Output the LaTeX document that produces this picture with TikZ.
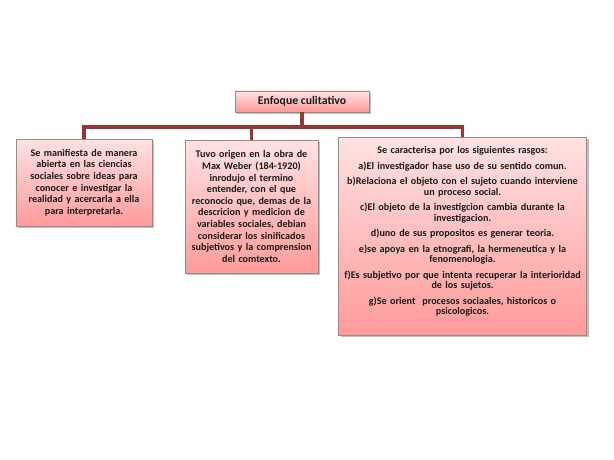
\documentclass[tikz,border=0pt]{standalone}
\usepackage{fontspec}
\setmainfont{Carlito}
\usepackage{xcolor}
\usepackage{tikz}
\usetikzlibrary{shadows}
\definecolor{cRosaTop}{HTML}{FFE2E2}
\definecolor{cRosaBot}{HTML}{FF9A9A}
\definecolor{cBorde}{HTML}{8E8E8E}
\definecolor{cVino}{HTML}{953735}
\definecolor{cTexto}{HTML}{1A1A1A}
\tikzset{
  caja/.style={draw=cBorde,line width=0.6pt,top color=cRosaTop,bottom color=cRosaBot,
    drop shadow={shadow xshift=1.6pt,shadow yshift=-1.6pt,fill=black,opacity=0.25},
    align=center,inner sep=0pt,text=cTexto,
    font=\bfseries\fontsize{7.6}{8.7}\selectfont},
  raiz/.style={caja,font=\bfseries\fontsize{8.8}{9}\selectfont},
  conn/.style={draw=cVino,line width=2.3pt},
}

\begin{document}
\begin{tikzpicture}[x=0.75pt,y=-0.75pt]
    \useasboundingbox[fill=white] (0,0) rectangle (614,460);
    % root
    \node[raiz,minimum width=100.5pt,minimum height=15.75pt] (root) at (302,101.5) {Enfoque culitativo};
    \coordinate (bus) at (302,127);
    % connectors under the boxes
    \draw[conn] (root.south) -- (bus);
    \draw[conn] (84,140) |- (bus) -| (462.5,138);
    \draw[conn] (bus) -| (251.5,141);
    % the three branches
    \node[caja,minimum width=102pt,minimum height=65.25pt,text width=100pt] (izq) at (84,182.5)
      {Se manifiesta de manera\\abierta en las ciencias\\sociales sobre ideas para\\conocer e investigar la\\realidad y acercarla a ella\\para interpretarla.};
    \node[caja,minimum width=99.75pt,minimum height=99.75pt,text width=98pt] (cen) at (251.5,206.5)
      {Tuvo origen en la obra de\\Max Weber (184-1920)\\inrodujo el termino\\entender, con el que\\reconocio que, demas de la\\descricion y medicion de\\variables sociales, debian\\considerar los sinificados\\subjetivos y la comprension\\del comtexto.};
    \node[caja,minimum width=183.75pt,minimum height=148.5pt,text width=186pt,
      font=\bfseries\fontsize{7.6}{7.9}\selectfont] (der) at (462.5,236)
      {Se caracterisa por los siguientes rasgos:\\[3.7pt]
       a)El investigador hase uso de su sentido comun.\\[3.7pt]
       b)Relaciona el objeto con el sujeto cuando interviene\\un proceso social.\\[3.7pt]
       c)El objeto de la investigcion cambia durante la\\investigacion.\\[3.7pt]
       d)uno de sus propositos es generar teoria.\\[3.7pt]
       e)se apoya en la etnografi, la hermeneutica y la\\fenomenologia.\\[3.7pt]
       f)Es subjetivo por que intenta recuperar la interioridad\\de los sujetos.\\[3.7pt]
       g)Se orient\ \ procesos sociaales, historicos o\\psicologicos.\\[0pt]\mbox{}};
\end{tikzpicture}
\end{document}
